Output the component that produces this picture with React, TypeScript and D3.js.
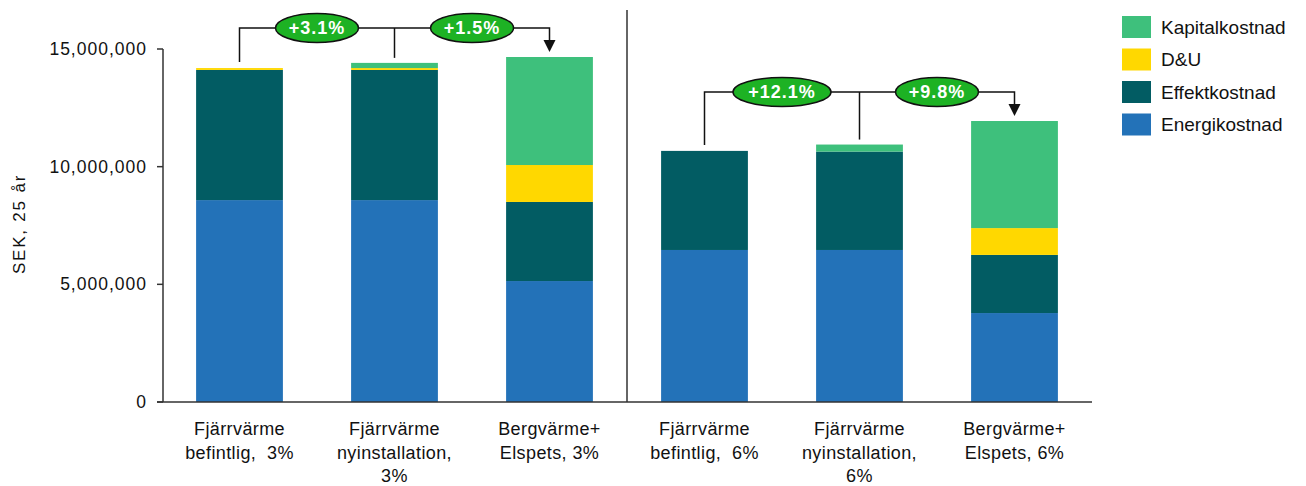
import React from "react";
import * as d3 from "d3";

const categories: string[][] = [
  ["Fjärrvärme", "befintlig,  3%"],
  ["Fjärrvärme", "nyinstallation,", "3%"],
  ["Bergvärme+", "Elspets, 3%"],
  ["Fjärrvärme", "befintlig,  6%"],
  ["Fjärrvärme", "nyinstallation,", "6%"],
  ["Bergvärme+", "Elspets, 6%"],
];
const energikostnad = [8580000, 8580000, 5140000, 6460000, 6460000, 3780000];
const effektkostnad = [5530000, 5530000, 3360000, 4210000, 4180000, 2470000];
const duKostnad = [80000, 80000, 1570000, 0, 0, 1140000];
const kapitalkostnad = [0, 220000, 4590000, 0, 300000, 4550000];

const seriesNames = ["Energikostnad", "Effektkostnad", "D&U", "Kapitalkostnad"];
const seriesValues = [energikostnad, effektkostnad, duKostnad, kapitalkostnad];
const seriesColors = ["#2372B8", "#025C63", "#FFD800", "#3EC07C"];
const yTicks = [0, 5000000, 10000000, 15000000];
const yTitle = "SEK, 25 år";
const brackets = [
  { bars: [0, 1, 2], labels: ["+3.1%", "+1.5%"] },
  { bars: [3, 4, 5], labels: ["+12.1%", "+9.8%"] },
];

export default function App() {
  const W = 1306, H = 486;
  const x0 = 162, x1 = 1092, yBase = 402, yTop = 49;
  const x = d3.scaleBand<number>().domain(d3.range(categories.length)).range([x0, x1]).paddingInner(0.44).paddingOuter(0.22);
  const y = d3.scaleLinear().domain([0, 15000000]).range([yBase, yTop]);
  const fmt = d3.format(",");
  const totals = categories.map((_, i) => d3.sum(seriesValues, (s) => s[i]));
  const stackData = categories.map((_, i) => {
    const o: any = { i };
    seriesNames.forEach((n, k) => (o[n] = seriesValues[k][i]));
    return o;
  });
  const stacked = d3.stack<any>().keys(seriesNames)(stackData);
  const cx = (i: number) => (x(i) as number) + x.bandwidth() / 2;
  const sepX = ((x(2) as number) + x.bandwidth() + (x(3) as number)) / 2;
  const font = "'Liberation Sans', Arial, sans-serif";

  return (
    <svg width={W} height={H} style={{ position: "absolute", left: 0, top: 0, fontFamily: font }}>
      <rect width={W} height={H} fill="#fff" />
      {stacked.map((layer, k) => (
        <g key={k} fill={seriesColors[k]}>
          {layer.map((d, i) =>
            d[1] - d[0] > 0 ? (
              <rect key={i} x={x(i)} width={x.bandwidth()} y={y(d[1])} height={y(d[0]) - y(d[1])} />
            ) : null
          )}
        </g>
      ))}
      {/* axes */}
      <line x1={163} x2={163} y1={yTop} y2={yBase} stroke="#333" strokeWidth={1.5} />
      <line x1={157} x2={x1} y1={yBase} y2={yBase} stroke="#333" strokeWidth={1.5} />
      {yTicks.map((t) => (
        <g key={t}>
          <line x1={157} x2={163} y1={y(t)} y2={y(t)} stroke="#333" strokeWidth={1.5} />
          <text x={147} y={y(t)} dy="0.35em" textAnchor="end" fontSize={17.5} letterSpacing={1} fill="#111">
            {fmt(t)}
          </text>
        </g>
      ))}
      <text transform={`translate(25,224) rotate(-90)`} textAnchor="middle" fontSize={17} letterSpacing={1.8} fill="#111">
        {yTitle}
      </text>
      {categories.map((lines, i) => (
        <text key={i} x={cx(i)} y={435} textAnchor="middle" fontSize={18} letterSpacing={0.4} fill="#111">
          {lines.map((l, j) => (
            <tspan key={j} x={cx(i)} dy={j === 0 ? 0 : 23.5} style={{ whiteSpace: "pre" }}>
              {l}
            </tspan>
          ))}
        </text>
      ))}
      <line x1={sepX} x2={sepX} y1={10} y2={yBase} stroke="#333" strokeWidth={1.5} />
      {/* brackets */}
      {brackets.map((b, bi) => {
        const top = d3.max(b.bars, (i) => totals[i]) as number;
        const by = y(top) - 29;
        const [a, m, c] = b.bars;
        const tipY = y(totals[c]) - 5;
        return (
          <g key={bi}>
            <path
              d={`M${cx(a)},${y(totals[a]) - 6}V${by}H${cx(c)}V${tipY - 12}`}
              fill="none"
              stroke="#111"
              strokeWidth={1.5}
            />
            <line x1={cx(m)} x2={cx(m)} y1={by} y2={y(totals[m]) - 5} stroke="#111" strokeWidth={1.5} />
            <path d={`M${cx(c) - 6},${tipY - 12}L${cx(c) + 6},${tipY - 12}L${cx(c)},${tipY}Z`} fill="#111" />
            {b.labels.map((lab, li) => {
              const ex = (cx(b.bars[li]) + cx(b.bars[li + 1])) / 2;
              const rx = 7.5 * lab.length + 4;
              return (
                <g key={li}>
                  <ellipse cx={ex} cy={by} rx={rx} ry={14.5} fill="#1DB224" stroke="#111" strokeWidth={1.5} />
                  <text x={ex} y={by} dy="0.36em" textAnchor="middle" fontSize={18} letterSpacing={1} fontWeight="bold" fill="#fff">
                    {lab}
                  </text>
                </g>
              );
            })}
          </g>
        );
      })}
      {/* legend */}
      {seriesNames
        .map((n, k) => ({ n, k }))
        .reverse()
        .map(({ n, k }, r) => (
          <g key={n} transform={`translate(1122,${16 + r * 32.5})`}>
            <rect width={29} height={22} fill={seriesColors[k]} />
            <text x={39} y={11} dy="0.35em" fontSize={19} fill="#111">
              {n}
            </text>
          </g>
        ))}
    </svg>
  );
}
